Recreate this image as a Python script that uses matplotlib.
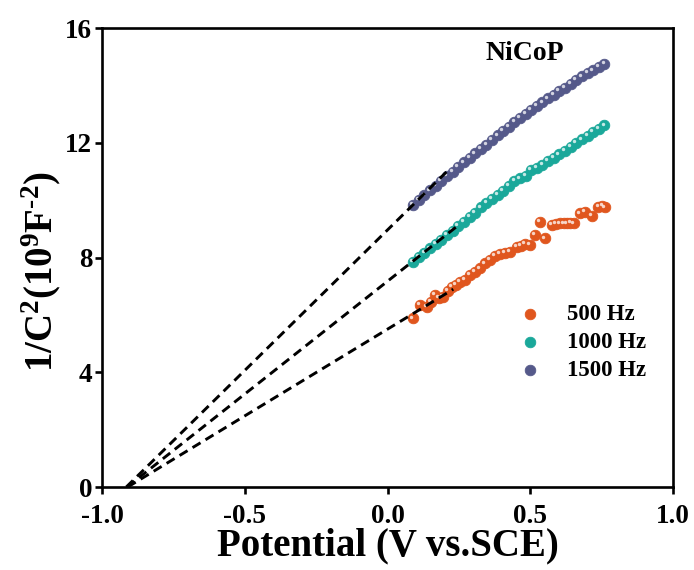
import numpy as np
import matplotlib
matplotlib.use("Agg")
import matplotlib.pyplot as plt
from matplotlib.transforms import ScaledTranslation

plt.rcParams['font.family'] = ['Liberation Serif', 'DejaVu Serif']
plt.rcParams['font.weight'] = 'bold'
plt.rcParams['mathtext.fontset'] = 'custom'
plt.rcParams['mathtext.rm'] = 'Liberation Serif:bold'
plt.rcParams['mathtext.bf'] = 'Liberation Serif:bold'
plt.rcParams['mathtext.it'] = 'Liberation Serif:bold:italic'

#
# data (NiCoP)
#
x_grid = [0.090, 0.110, 0.129, 0.149, 0.169, 0.188, 0.208, 0.228, 0.247, 0.267,
          0.287, 0.306, 0.326, 0.346, 0.365, 0.385, 0.405, 0.424, 0.444, 0.464,
          0.483, 0.503, 0.523, 0.542, 0.562, 0.582, 0.601, 0.621, 0.641, 0.660,
          0.680, 0.700, 0.719, 0.739, 0.759]

y_1500 = [9.83, 10.00, 10.17, 10.34, 10.51, 10.68, 10.84, 11.00, 11.16, 11.32,
          11.48, 11.63, 11.79, 11.94, 12.10, 12.26, 12.42, 12.57, 12.73, 12.87,
          13.01, 13.14, 13.28, 13.41, 13.55, 13.68, 13.80, 13.93, 14.06, 14.19,
          14.32, 14.43, 14.53, 14.64, 14.74]

y_1000 = [7.86, 8.01, 8.17, 8.32, 8.48, 8.63, 8.79, 8.94, 9.10, 9.25,
          9.41, 9.57, 9.75, 9.90, 10.04, 10.18, 10.33, 10.49, 10.66, 10.76,
          10.86, 11.05, 11.14, 11.24, 11.36, 11.48, 11.60, 11.73, 11.86, 11.99,
          12.12, 12.25, 12.37, 12.49, 12.61]

x_500 = [0.090, 0.114, 0.137, 0.152, 0.166, 0.181, 0.195, 0.210, 0.225, 0.240,
         0.254, 0.272, 0.289, 0.307, 0.324, 0.342, 0.359, 0.377, 0.394, 0.411,
         0.429, 0.453, 0.468, 0.482, 0.499, 0.517, 0.534, 0.552, 0.575, 0.590,
         0.604, 0.616, 0.628, 0.640, 0.651, 0.674, 0.692, 0.715, 0.738, 0.752, 0.762]
y_500 = [5.88, 6.34, 6.28, 6.45, 6.69, 6.60, 6.63, 6.85, 6.98, 7.05,
         7.15, 7.22, 7.39, 7.50, 7.62, 7.80, 7.91, 8.05, 8.14, 8.16,
         8.20, 8.37, 8.42, 8.49, 8.43, 8.78, 9.24, 8.67, 9.13, 9.17,
         9.19, 9.19, 9.19, 9.20, 9.19, 9.54, 9.59, 9.44, 9.77, 9.80, 9.75]

labels = ['500 Hz', '1000 Hz', '1500 Hz']
colors = ['#E0561E', '#1AA89A', '#55598A']

# linear fits (x-intercept, slope, end of dashed line)
fit_x0 = [-0.91, -0.912, -0.915]
fit_slope = [6.05, 7.87, 9.80]
fit_xend = [0.23, 0.24, 0.22]

series_x = [x_500, x_grid, x_grid]
series_y = [y_500, y_1000, y_1500]

fig = plt.figure(figsize=(6.94, 5.70), dpi=100)
ax = fig.add_axes([0.147, 0.1456, 0.823, 0.805])

# dashed extrapolation lines
for x0, k, xe in zip(fit_x0, fit_slope, fit_xend):
    xs = np.array([x0, xe])
    ax.plot(xs, k * (xs - x0), ls=(0, (3.2, 2.0)), color='black', lw=2.1, zorder=4)

shine = ax.transData + ScaledTranslation(-1.3 / 72, 1.3 / 72, fig.dpi_scale_trans)
handles = []
for xs, ys, c, lab in zip(series_x, series_y, colors, labels):
    h = ax.scatter(xs, ys, s=58, color=c, edgecolors=c, linewidths=0.6, label=lab, zorder=3)
    ax.scatter(xs, ys, s=6, color='white', alpha=0.75, linewidths=0, transform=shine, zorder=3.5)
    handles.append(h)

ax.set_xlim(-1.0, 1.0)
ax.set_ylim(0, 16)
ax.set_xticks([-1.0, -0.5, 0.0, 0.5, 1.0])
ax.set_xticklabels(['-1.0', '-0.5', '0.0', '0.5', '1.0'])
ax.set_yticks([0, 4, 8, 12, 16])
for s in ax.spines.values():
    s.set_linewidth(1.9)
ax.tick_params(direction='out', length=5, width=1.9, labelsize=19.5)
ax.tick_params(axis='y', pad=2)
ax.tick_params(axis='x', pad=7)

ax.set_xlabel('Potential (V vs.SCE)', fontsize=28, fontweight='bold', labelpad=-1)
ax.set_ylabel(r'1/C$^{\mathrm{2}}$(10$^{\mathrm{9}}$F$^{\text{-2}}$)', fontsize=28,
              fontweight='bold', labelpad=2)
ax.yaxis.label.set_y(0.47)

ax.text(0.74, 0.945, 'NiCoP', transform=ax.transAxes, fontsize=20, fontweight='bold',
        ha='center', va='center')

ax.legend(handles=handles, loc='upper left', bbox_to_anchor=(0.729, 0.399), frameon=False,
          handlelength=1.0, handletextpad=1.1, labelspacing=0.31, borderaxespad=0,
          borderpad=0, scatterpoints=1, prop={'weight': 'bold', 'size': 16.5})

fig.savefig('out.png', dpi=100)
